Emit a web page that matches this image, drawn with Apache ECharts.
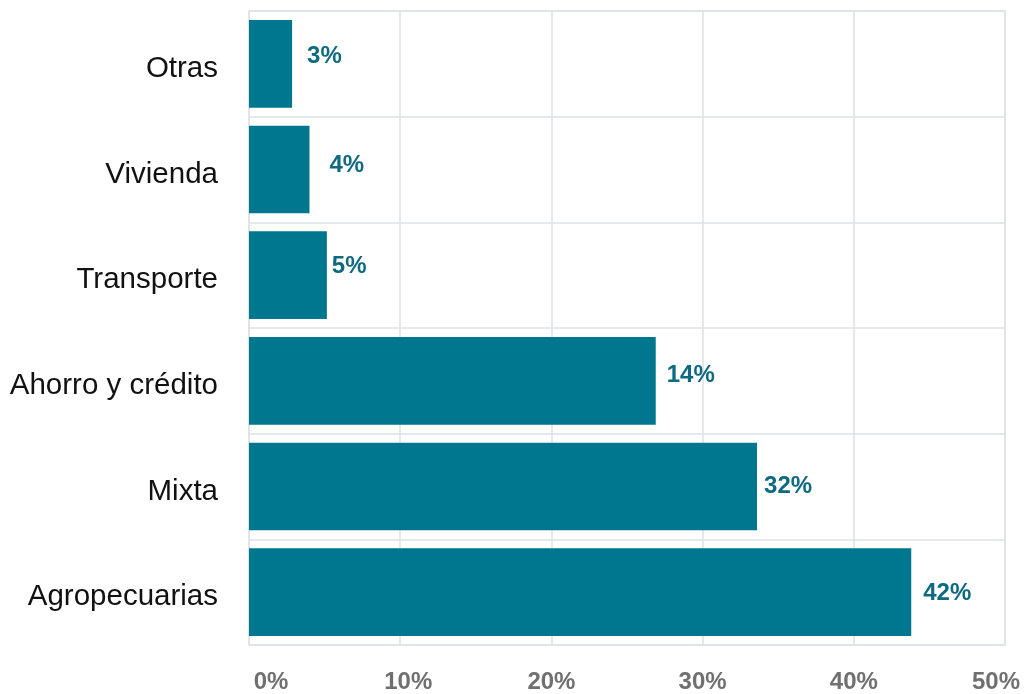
<!DOCTYPE html>
<html>
<head>
<meta charset="utf-8">
<script src="https://cdn.jsdelivr.net/npm/echarts@6/dist/echarts.min.js"></script>
<style>
html,body{margin:0;padding:0;background:#fff;}
#chart{width:1026px;height:694px;}
</style>
</head>
<body>
<div id="chart"></div>
<script>
// Data (bottom to top)
const categories = ["Agropecuarias", "Mixta", "Ahorro y crédito", "Transporte", "Vivienda", "Otras"];
const barValues = [43.8, 33.6, 26.9, 5.15, 4.0, 2.85];
const labelValues = [42, 32, 14, 5, 4, 3];
const xTicks = [0, 10, 20, 30, 40, 50];

// Style: per-label nudges [dx, dy] as in the reference
const labelNudge = [[12, 1], [7, 0], [11, -5], [5, -9], [20, -4], [15, -7]];
const FONT = '"Liberation Sans", Arial, Helvetica, sans-serif';
const gridColor = '#dce2e6';

const chart = echarts.init(document.getElementById('chart'), null, {renderer: 'canvas'});

const seriesData = barValues.map((v, i) => ({
  value: v,
  label: { offset: labelNudge[i] }
}));

const tickPad = {0: [0, 0, 0, 44], 10: [0, 0, 0, 16], 50: [0, 18, 0, 0]};
const rich = {};
xTicks.forEach(t => {
  rich['t' + t] = {
    fontFamily: FONT, fontSize: 24, fontWeight: 'bold', color: '#707070',
    padding: tickPad[t] || [0, 0, 0, 0]
  };
});

chart.setOption({
  animation: false,
  backgroundColor: '#ffffff',
  grid: {
    left: 249, right: 21, top: 11, bottom: 48,
    show: true, borderColor: gridColor, borderWidth: 1.5, backgroundColor: 'transparent'
  },
  xAxis: {
    type: 'value', min: 0, max: 50, interval: 10,
    axisLine: { show: false }, axisTick: { show: false },
    splitLine: { show: true, lineStyle: { color: gridColor, width: 1.5 } },
    axisLabel: {
      margin: 25,
      formatter: v => '{t' + v + '|' + v + '%}',
      rich: rich
    }
  },
  yAxis: {
    type: 'category', data: categories,
    axisLine: { show: false }, axisTick: { show: false },
    splitLine: { show: true, lineStyle: { color: gridColor, width: 1.5 } },
    axisLabel: {
      margin: 31,
      formatter: v => '{c|' + v + '}',
      rich: {
        c: { fontFamily: FONT, fontSize: 29.5, color: '#111111', padding: [10, 0, 0, 0] }
      }
    }
  },
  series: [{
    type: 'bar',
    data: seriesData,
    barCategoryGap: '17%',
    itemStyle: { color: '#00778f' },
    label: {
      show: true, position: 'right', distance: 0,
      fontFamily: FONT, fontSize: 24, fontWeight: 'bold', color: '#0e6a80',
      formatter: p => labelValues[p.dataIndex] + '%'
    }
  }]
});
</script>
</body>
</html>
